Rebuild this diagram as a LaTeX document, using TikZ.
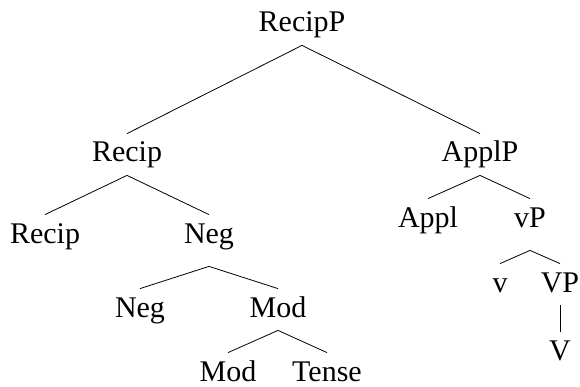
\documentclass[tikz,border=0pt]{standalone}
\usepackage{fontspec}
\setmainfont{Liberation Serif}
\newcommand{\branch}[2] % parent, child
{
	\draw (#1.south) -- (#2.north);
}

\begin{document}
\begin{tikzpicture}[x=1pt, y=-1pt, line width=0.8pt,
	every node/.style={font=\fontsize{30}{36}\selectfont, anchor=base,
		text height=20pt, text depth=5pt, inner xsep=0pt, inner ysep=8pt},
	deep/.style={text depth=15pt}]
	% frame: 580 x 387
	\useasboundingbox (0, 0) rectangle (580, 387);
	% labels
	\node (recipp) at (302, 32) {RecipP};
	\node (recip) at (127, 162) {Recip};
	\node (applp) at (480, 162) {ApplP};
	\node (reciphead) at (45, 243) {Recip};
	\node[deep] (neg) at (209, 243) {Neg};
	\node (appl) at (428, 227) {Appl};
	\node[deep] (vp) at (530, 227) {vP};
	\node (neghead) at (140, 317) {Neg};
	\node (mod) at (278, 317) {Mod};
	\node (v) at (500, 292) {v};
	\node (bigvp) at (560, 292) {VP};
	\node (modhead) at (228, 381) {Mod};
	\node (tense) at (327, 381) {Tense};
	\node (bigv) at (560, 360) {V};
	
	% branches
	\branch{recipp}{recip};
	\branch{recipp}{applp};
	\branch{recip}{reciphead};
	\branch{recip}{neg};
	\branch{neg}{neghead};
	\branch{neg}{mod};
	\branch{mod}{modhead};
	\branch{mod}{tense};
	\branch{applp}{appl};
	\branch{applp}{vp};
	\branch{vp}{v};
	\branch{vp}{bigvp};
	\branch{bigvp}{bigv};
\end{tikzpicture}
\end{document}
